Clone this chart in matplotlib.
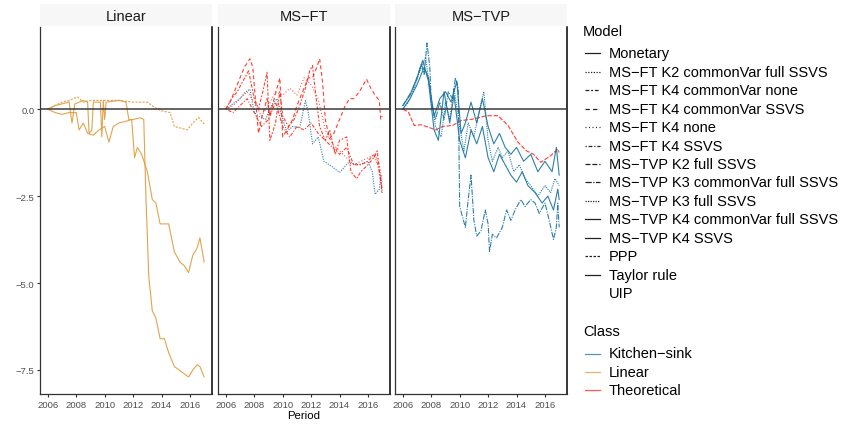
import numpy as np
import matplotlib
matplotlib.use("Agg")
import matplotlib.pyplot as plt

plt.rcParams["font.family"] = ["Liberation Sans", "DejaVu Sans"]

# ---------- data ----------
panels = ["Linear", "MS\u2212FT", "MS\u2212TVP"]

# Linear panel
lin_mon_t = [2006.0, 2006.5, 2007.0, 2007.5, 2007.7, 2007.9, 2008.5, 2008.8, 2008.9, 2009.1, 2009.2, 2009.7,
             2009.8, 2009.9, 2010.0, 2010.1, 2011.0, 2011.5, 2011.7, 2012.0, 2012.5, 2012.75, 2012.9, 2013.1,
             2013.35, 2013.6, 2013.9, 2014.2, 2014.5, 2014.9, 2015.4, 2015.9, 2016.2, 2016.5, 2016.7, 2017.0]
lin_mon_v = [0.0, 0.1, 0.15, 0.2, -0.4, 0.15, 0.25, 0.2, -0.7, -0.6, 0.2, 0.2,
             -0.8, 0.25, -0.3, 0.2, 0.25, 0.2, -0.3, -0.3, -0.25, -0.3, -2.5, -4.8,
             -5.8, -6.0, -6.6, -6.6, -7.0, -7.4, -7.55, -7.7, -7.5, -7.35, -7.4, -7.7]

lin_ppp_t = [2006.0, 2006.5, 2007.0, 2007.5, 2008.1, 2008.5, 2009.0, 2010.0, 2011.0, 2012.0, 2013.0,
             2013.5, 2014.0, 2014.6, 2014.9, 2015.4, 2015.8, 2016.2, 2016.6, 2017.0]
lin_ppp_v = [0.0, 0.1, 0.2, 0.25, 0.35, 0.2, 0.25, 0.25, 0.25, 0.2, 0.2,
             0.05, -0.05, -0.1, -0.5, -0.55, -0.6, -0.4, -0.24, -0.43]

lin_tay_t = [2006.0, 2006.5, 2007.0, 2007.5, 2008.0, 2008.2, 2008.5, 2008.8, 2009.2, 2009.6, 2010.0,
             2010.3, 2010.6, 2011.0, 2011.5, 2011.9, 2012.1, 2012.3, 2012.6, 2013.0, 2013.35, 2013.6,
             2013.9, 2014.5, 2014.9, 2015.3, 2015.6, 2015.9, 2016.2, 2016.5, 2016.7, 2017.0]
lin_tay_v = [0.0, -0.1, -0.15, -0.1, -0.1, -0.6, -0.4, -0.7, -0.75, -0.6, -0.5,
             -0.95, -0.5, -0.4, -0.35, -0.3, -1.4, -1.1, -1.3, -1.8, -2.6, -2.7,
             -3.3, -3.3, -4.1, -4.4, -4.5, -4.7, -4.2, -4.0, -3.7, -4.4]

# MS-FT panel
ft_k2_t = [2006.0, 2006.5, 2007.0, 2007.4, 2007.7, 2008.0, 2008.3, 2008.8, 2009.2, 2009.6, 2010.0, 2010.3,
           2010.7, 2011.2, 2011.6, 2011.8, 2012.1, 2012.5, 2012.9, 2013.4, 2014.0, 2014.6, 2015.4, 2016.0,
           2016.3, 2016.5, 2016.8, 2016.9, 2017.0]
ft_k2_v = [0.0, 0.15, 0.3, 0.5, 0.57, -0.1, -0.2, -0.3, 0.1, 0.3, -0.3, -0.65,
           -0.5, -0.53, 0.24, -0.1, -1.0, -0.8, -1.5, -1.63, -1.82, -1.55, -1.6, -1.5,
           -1.8, -2.45, -2.3, -1.9, -2.4]

ft_cs_t = [2006.0, 2006.3, 2006.7, 2007.0, 2007.3, 2007.7, 2007.9, 2008.1, 2008.3, 2008.5, 2008.9, 2009.1,
           2009.4, 2009.8, 2010.0, 2010.3, 2010.7, 2011.0, 2011.4, 2011.8, 2012.1, 2012.4, 2012.6, 2012.8,
           2013.0, 2013.3, 2013.6, 2014.0, 2014.4, 2014.7, 2015.0, 2015.4, 2015.9, 2016.2, 2016.5, 2016.8,
           2016.9, 2017.0]
ft_cs_v = [0.0, 0.2, 0.6, 0.9, 1.2, 1.45, 1.2, 0.2, -0.7, -0.3, 0.3, -0.2,
           0.3, 0.9, -0.8, -0.6, -0.3, 0.1, 0.5, 0.9, 0.9, 1.2, 1.45, 0.8,
           -0.3, -0.85, -0.7, -0.3, 0.1, 0.3, 0.3, 0.5, 0.86, 0.6, 0.4, 0.25,
           -0.3, -0.2]

ft_cn_t = [2006.0, 2006.4, 2006.8, 2007.2, 2007.6, 2008.0, 2008.3, 2008.6, 2008.9, 2009.1, 2009.5, 2009.8,
           2010.0, 2010.4, 2010.8, 2011.2, 2011.6, 2011.9, 2012.1, 2012.3, 2012.6, 2013.0, 2013.3, 2013.7,
           2014.0, 2014.5, 2014.8, 2015.2, 2015.5, 2016.0, 2016.4, 2016.65, 2016.85, 2017.0]
ft_cn_v = [0.0, 0.3, 0.5, 0.8, 1.1, 0.3, 0.0, 0.5, 1.05, -0.9, -0.4, 0.5,
           -0.2, -0.5, -0.3, 0.1, 0.6, 1.1, 1.25, 0.5, -0.5, -0.9, -0.6, -1.3,
           -0.9, -0.8, -1.8, -2.0, -1.8, -1.6, -1.4, -1.2, -1.9, -2.45]

ft_n_t = [2006.0, 2006.5, 2007.0, 2007.5, 2008.0, 2008.5, 2009.0, 2009.5, 2010.0, 2010.5, 2011.0, 2011.5,
          2012.0, 2012.5, 2013.0, 2013.5, 2014.0, 2014.5, 2015.0, 2015.5, 2016.0, 2016.5, 2016.8, 2017.0]
ft_n_v = [0.0, 0.1, 0.3, 0.5, 0.2, -0.2, 0.1, 0.5, 0.4, 0.6, 0.4, 0.9,
          0.7, 0.3, -0.6, -1.0, -1.2, -1.4, -1.6, -1.5, -1.4, -1.3, -1.6, -2.1]

ft_s_t = [2006.0, 2006.5, 2007.0, 2007.5, 2008.0, 2008.5, 2009.0, 2009.5, 2010.0, 2010.5, 2011.0, 2011.5,
          2012.0, 2012.5, 2013.0, 2013.5, 2014.0, 2014.5, 2015.0, 2015.5, 2016.0, 2016.4, 2016.7, 2017.0]
ft_s_v = [0.0, -0.1, 0.1, 0.3, -0.1, -0.5, -0.3, 0.2, -0.5, -0.8, -0.5, -0.6,
          -0.4, -0.7, -0.9, -1.1, -1.3, -1.1, -1.6, -1.6, -1.5, -1.3, -1.6, -2.3]

# MS-TVP panel
tvp_k2_t = [2006.0, 2006.4, 2006.8, 2007.3, 2008.0, 2008.3, 2008.8, 2009.5, 2010.1, 2010.9, 2011.9, 2012.7,
            2013.4, 2014.1, 2014.7, 2015.2, 2015.7, 2016.4, 2016.9, 2017.0]
tvp_k2_v = [0.0, -0.09, -0.47, -0.45, -0.55, -0.6, -0.5, -0.47, -0.33, -0.29, -0.19, -0.19,
            -0.47, -0.95, -1.2, -1.3, -1.53, -1.34, -1.15, -1.25]

tvp_k3c_t = [2006.0, 2006.3, 2006.6, 2007.0, 2007.3, 2007.5, 2007.7, 2007.9, 2008.0, 2008.3, 2008.6, 2008.9,
             2009.2, 2009.5, 2009.7, 2009.9, 2010.0, 2010.2, 2010.4, 2010.6, 2010.8, 2011.0, 2011.2, 2011.5,
             2011.8, 2012.0, 2012.1, 2012.3, 2012.6, 2013.0, 2013.3, 2013.6, 2013.9, 2014.3, 2014.6, 2015.0,
             2015.3, 2015.6, 2016.0, 2016.3, 2016.6, 2016.8, 2016.9, 2017.0]
tvp_k3c_v = [0.1, 0.3, 0.5, 0.9, 1.3, 1.0, 1.9, 1.2, 0.2, -0.3, 0.2, -0.3,
             0.5, 0.3, 0.9, 0.6, -2.8, -3.1, -3.4, -2.6, -1.9, -3.2, -3.65, -3.5,
             -2.9, -3.3, -4.1, -3.6, -3.7, -3.4, -2.9, -3.2, -2.9, -2.6, -2.8, -2.6,
             -2.7, -3.0, -2.7, -3.2, -3.75, -3.4, -2.7, -3.4]

tvp_k3f_t = [2006.0, 2006.4, 2006.8, 2007.2, 2007.6, 2008.0, 2008.3, 2008.7, 2009.0, 2009.3, 2009.6, 2010.0,
             2010.3, 2010.6, 2011.0, 2011.4, 2011.7, 2012.0, 2012.3, 2012.7, 2013.0, 2013.4, 2013.8, 2014.2,
             2014.6, 2015.0, 2015.5, 2016.0, 2016.4, 2016.7, 2017.0]
tvp_k3f_v = [0.0, 0.2, 0.6, 1.1, 1.5, 0.3, -0.5, -0.8, 0.2, -0.3, 0.6, -0.5,
             -1.2, -0.4, -0.8, 0.0, 0.5, -0.9, -1.5, -1.1, -1.4, -1.2, -1.8, -1.6,
             -2.0, -2.2, -2.5, -2.2, -2.4, -2.0, -2.2]

tvp_k4c_t = [2006.0, 2006.5, 2007.0, 2007.5, 2007.8, 2008.2, 2008.6, 2009.0, 2009.4, 2009.8, 2010.1, 2010.4,
             2010.8, 2011.2, 2011.6, 2012.0, 2012.4, 2012.8, 2013.2, 2013.6, 2014.0, 2014.5, 2015.0, 2015.5,
             2016.0, 2016.5, 2016.8, 2017.0]
tvp_k4c_v = [0.0, 0.3, 0.7, 1.2, 0.9, -0.2, 0.3, 0.5, 0.2, 0.8, -0.7, -0.4,
             0.2, -0.4, 0.3, -0.5, -1.0, -0.7, -1.1, -1.3, -1.1, -1.5, -1.3, -1.8,
             -1.5, -1.8, -1.1, -1.9]

tvp_k4s_t = [2006.0, 2006.5, 2007.0, 2007.4, 2007.8, 2008.2, 2008.5, 2008.9, 2009.3, 2009.6, 2010.0, 2010.4,
             2010.8, 2011.2, 2011.6, 2012.0, 2012.4, 2012.8, 2013.2, 2013.6, 2014.0, 2014.4, 2014.8, 2015.3,
             2015.8, 2016.2, 2016.6, 2016.9, 2017.0]
tvp_k4s_v = [0.1, 0.4, 0.9, 1.4, 0.8, -0.6, -0.9, 0.5, -0.4, 0.4, -0.9, -1.4,
             -0.6, -1.0, -0.5, -1.4, -1.8, -1.3, -1.6, -1.9, -2.1, -1.8, -2.2, -2.4,
             -2.7, -2.5, -2.9, -2.3, -2.6]

models = ["Monetary", "MS\u2212FT K2 commonVar full SSVS", "MS\u2212FT K4 commonVar none",
          "MS\u2212FT K4 commonVar SSVS", "MS\u2212FT K4 none", "MS\u2212FT K4 SSVS",
          "MS\u2212TVP K2 full SSVS", "MS\u2212TVP K3 commonVar full SSVS", "MS\u2212TVP K3 full SSVS",
          "MS\u2212TVP K4 commonVar full SSVS", "MS\u2212TVP K4 SSVS", "PPP", "Taylor rule", "UIP"]
classes = ["Kitchen\u2212sink", "Linear", "Theoretical"]

# ---------- styles ----------
COL = {"Kitchen\u2212sink": "#17729f", "Linear": "#de9a3a", "Theoretical": "#ff2a1a"}
LT = {
    "Monetary": "-",
    "MS\u2212FT K2 commonVar full SSVS": (0, (1, 1.2)),
    "MS\u2212FT K4 commonVar none": (0, (3, 1.5, 1.5, 1.5)),
    "MS\u2212FT K4 commonVar SSVS": (0, (3.5, 2.5)),
    "MS\u2212FT K4 none": (0, (0.8, 2)),
    "MS\u2212FT K4 SSVS": (0, (1, 1.5, 3, 1.5)),
    "MS\u2212TVP K2 full SSVS": (0, (4, 1.5)),
    "MS\u2212TVP K3 commonVar full SSVS": (0, (5, 1.2, 1, 1.2)),
    "MS\u2212TVP K3 full SSVS": (0, (1, 1)),
    "MS\u2212TVP K4 commonVar full SSVS": "-",
    "MS\u2212TVP K4 SSVS": "-",
    "PPP": (0, (2, 1.2)),
    "Taylor rule": "-",
    "UIP": "None",
}

series = [
    (0, "Monetary", "Linear", lin_mon_t, lin_mon_v),
    (0, "PPP", "Linear", lin_ppp_t, lin_ppp_v),
    (0, "Taylor rule", "Linear", lin_tay_t, lin_tay_v),
    (1, "MS\u2212FT K2 commonVar full SSVS", "Kitchen\u2212sink", ft_k2_t, ft_k2_v),
    (1, "MS\u2212FT K4 commonVar SSVS", "Theoretical", ft_cs_t, ft_cs_v),
    (1, "MS\u2212FT K4 commonVar none", "Theoretical", ft_cn_t, ft_cn_v),
    (1, "MS\u2212FT K4 none", "Theoretical", ft_n_t, ft_n_v),
    (1, "MS\u2212FT K4 SSVS", "Theoretical", ft_s_t, ft_s_v),
    (2, "MS\u2212TVP K2 full SSVS", "Theoretical", tvp_k2_t, tvp_k2_v),
    (2, "MS\u2212TVP K3 commonVar full SSVS", "Kitchen\u2212sink", tvp_k3c_t, tvp_k3c_v),
    (2, "MS\u2212TVP K3 full SSVS", "Kitchen\u2212sink", tvp_k3f_t, tvp_k3f_v),
    (2, "MS\u2212TVP K4 commonVar full SSVS", "Kitchen\u2212sink", tvp_k4c_t, tvp_k4c_v),
    (2, "MS\u2212TVP K4 SSVS", "Kitchen\u2212sink", tvp_k4s_t, tvp_k4s_v),
]

W, H = 854, 427
fig = plt.figure(figsize=(W / 100, H / 100), dpi=100)

lefts = [40, 218, 395]
pw = 172
top, bot = 28, 395
axes = []
for i, name in enumerate(panels):
    ax = fig.add_axes([lefts[i] / W, 1 - bot / H, pw / W, (bot - top) / H])
    ax.set_xlim(2005.45, 2017.55)
    ax.set_ylim(-8.19, 2.36)
    ax.axhline(0, color="#3a3a3a", lw=1.1, zorder=5)
    for s in ["top"]:
        ax.spines[s].set_visible(False)
    ax.spines["left"].set_color("#333333")
    ax.spines["bottom"].set_color("#333333")
    ax.spines["right"].set_color("black")
    ax.spines["left"].set_linewidth(0.9)
    ax.spines["bottom"].set_linewidth(0.9)
    ax.spines["right"].set_linewidth(1.1)
    ax.set_xticks([2006, 2008, 2010, 2012, 2014, 2016])
    ax.tick_params(axis="x", length=2.5, color="#333333", labelsize=6.8, labelcolor="#4d4d4d", pad=1.5)
    if i == 0:
        ax.set_yticks([0, -2.5, -5, -7.5])
        ax.set_yticklabels(["0.0", "\u22122.5", "\u22125.0", "\u22127.5"])
        ax.tick_params(axis="y", length=2.5, color="#333333", labelsize=6.8, labelcolor="#4d4d4d", pad=1.5)
    else:
        ax.set_yticks([])
    # strip
    strip = fig.add_axes([lefts[i] / W, 1 - 27 / H, pw / W, 22 / H])
    strip.set_facecolor("#f7f7f7")
    for s in strip.spines.values():
        s.set_visible(False)
    strip.set_xticks([]); strip.set_yticks([])
    strip.text(0.5, 0.45, name, ha="center", va="center", fontsize=10.5, color="#1a1a1a")
    axes.append(ax)

for p, m, c, t, v in series:
    axes[p].plot(t, v, color=COL[c], ls=LT[m], lw=0.8, alpha=0.9)

axes[1].set_xlabel("Period", fontsize=8.2, labelpad=1)

# ---------- legends (drawn in pixel coords) ----------
lg = fig.add_axes([0, 0, 1, 1], facecolor="none")
lg.set_xlim(0, W); lg.set_ylim(H, 0); lg.axis("off")
lg.text(583, 32, "Model", fontsize=10.5, va="center", ha="left")
for k, m in enumerate(models):
    y = 54.3 + 18.45 * k
    lg.plot([585, 600], [y, y], color="#222222", ls=LT[m], lw=0.9)
    lg.text(609, y, m, fontsize=10.5, va="center", ha="left")
lg.text(583, 332, "Class", fontsize=10.5, va="center", ha="left")
for k, c in enumerate(classes):
    y = 354.5 + 18.4 * k
    lg.plot([585, 600], [y, y], color=COL[c], lw=0.9, alpha=0.75)
    lg.text(609, y, c, fontsize=10.5, va="center", ha="left")

fig.savefig("out.png", dpi=100)
